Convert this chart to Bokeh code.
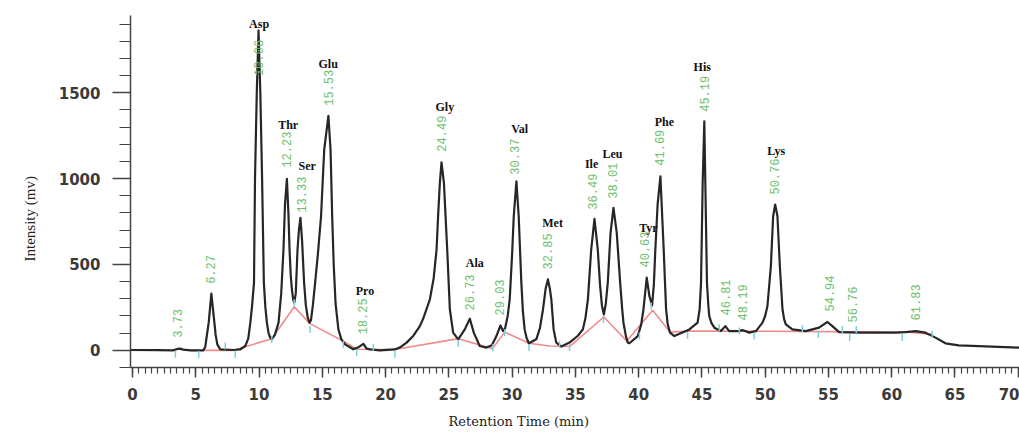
import math
from bokeh.plotting import figure
from bokeh.models import SingleIntervalTicker, Range1d, Title, ColumnDataSource
from bokeh.core.properties import value
from bokeh.embed import file_html
from bokeh.resources import INLINE

# ---- chromatogram trace (retention time min, intensity mV) ----
trace_t = [-0.16, 2.0, 3.2, 3.55, 3.75, 4.0, 4.6, 5.6, 5.75, 5.9, 6.02, 6.23, 6.47, 6.57, 6.7,
           6.94, 8.0, 8.5, 8.91, 9.15, 9.31, 9.45, 9.6, 9.68, 9.82, 9.96, 10.1, 10.24, 10.38,
           10.5, 10.62, 10.75, 10.88, 11.0, 11.25, 11.54, 11.75, 11.93, 12.05, 12.2, 12.32,
           12.41, 12.5, 12.6, 12.7, 12.78, 12.9, 13.04, 13.15, 13.27, 13.4, 13.56, 13.7, 13.85,
           13.99, 14.1, 14.25, 14.43, 14.65, 14.9, 15.15, 15.48, 15.65, 15.78, 15.9, 16.05,
           16.27, 16.5, 16.8, 17.45, 17.9, 18.25, 18.5, 18.77, 19.56, 20.74, 21.2, 21.66, 22.2,
           22.71, 23.0, 23.5, 23.8, 24.03, 24.15, 24.29, 24.42, 24.61, 24.87, 25.08, 25.34,
           25.74, 26.26, 26.66, 26.97, 27.44, 27.97, 28.4, 28.76, 29.08, 29.28, 29.45, 29.65,
           29.81, 30.0, 30.13, 30.34, 30.52, 30.73, 30.85, 30.99, 31.15, 31.33, 31.91, 32.2,
           32.44, 32.65, 32.83, 32.98, 33.1, 33.2, 33.28, 33.49, 33.89, 34.54, 35.2, 35.59,
           35.8, 35.99, 36.25, 36.51, 36.77, 36.95, 37.1, 37.25, 37.4, 37.56, 37.78, 38.01,
           38.27, 38.54, 38.7, 38.8, 39.0, 39.14, 39.27, 39.93, 40.2, 40.38, 40.64, 40.85,
           41.06, 41.2, 41.32, 41.5, 41.72, 41.85, 41.98, 42.08, 42.17, 42.3, 42.48, 42.82,
           44.01, 44.66, 44.82, 44.93, 45.06, 45.19, 45.27, 45.4, 45.5, 45.58, 45.75, 45.98,
           46.5, 46.85, 47.16, 47.9, 48.2, 48.74, 49.27, 49.79, 50.0, 50.18, 50.45, 50.63,
           50.79, 50.97, 51.16, 51.37, 51.5, 51.63, 52.15, 53.21, 54.26, 54.6, 54.92, 55.31,
           55.84, 57.67, 60.3, 61.1, 61.9, 62.67, 63.46, 64.25, 65.3, 67.93, 70.1]
trace_mv = [2, 1, 0, 8, 10, 4, 0, 0, 20, 100, 161, 330, 161, 90, 35,
            5, 2, 5, 25, 70, 161, 260, 393, 1000, 1500, 1862, 1500, 1000, 393,
            250, 161, 100, 74, 64, 90, 161, 330, 587, 850, 998, 800,
            587, 440, 350, 295, 277, 330, 587, 700, 771, 640, 393, 260, 190,
            161, 175, 260, 393, 560, 781, 1169, 1366, 1169, 781, 500, 270,
            122, 65, 35, 6, 20, 38, 10, 6, 0, 5, 20, 45, 85,
            141, 190, 296, 420, 587, 780, 975, 1095, 975, 587, 238, 103,
            64, 122, 184, 103, 25, 16, 30, 83, 145, 112, 130, 200,
            297, 560, 781, 984, 781, 393, 230, 122, 70, 41, 64, 130,
            238, 360, 413, 360, 297, 200, 122, 45, 22, 45, 85, 122,
            190, 297, 587, 766, 587, 380, 260, 209, 270, 393, 684, 830,
            684, 393, 240, 161, 80, 45, 41, 83, 150, 238, 423, 316,
            262, 380, 587, 850, 1013, 800, 587, 400, 238, 150, 103, 83,
            122, 161, 240, 393, 975, 1333, 975, 393, 270, 200, 160, 132,
            112, 141, 112, 112, 118, 103, 112, 161, 200, 258, 490, 781,
            849, 781, 490, 238, 180, 151, 122, 112, 132, 150, 165, 141,
            106, 103, 103, 106, 112, 103, 74, 41, 29, 22, 16]

# ---- integration baseline (red) ----
base_t = [4.57, 7.99, 11.01, 12.78, 13.99, 16.8, 17.72, 20.74, 25.74, 28.45, 29.42, 31.33,
          32.97, 34.54, 37.25, 39.06, 41.11, 42.48, 44.01, 47.16, 61.36, 63.2]
base_mv = [0, 0, 68, 254, 157, 48, 6, 5, 68, 10, 106, 41, 25, 22, 194, 54, 234, 106, 112,
           112, 106, 93]

# ---- integration markers (cyan) ----
mark_t = [3.39, 5.23, 7.33, 8.12, 11.01, 12.78, 14.04, 16.66, 17.72, 19.03, 20.74, 25.74,
          28.49, 29.42, 31.33, 33.75, 34.54, 37.22, 40.06, 40.99, 43.87, 46.37, 47.95, 49.13,
          52.94, 54.2, 56.1, 56.68, 57.2, 60.83, 63.2]
mark_mv = [-23, -23, 25, -23, 64, 277, 122, 35, -13, 16, -23, 41, 16, 103, 16, 35, 16, 180,
           83, 258, 87, 132, 112, 83, 126, 93, 122, 74, 122, 74, 93]

# ---- retention-time labels (green) ----
rt_labels = ["3.73", "6.27", "10.06", "12.23", "13.33", "15.53", "18.25", "24.49", "26.73",
             "29.03", "30.37", "32.85", "36.49", "38.01", "40.63", "41.69", "45.19", "46.81",
             "48.19", "50.76", "54.94", "56.76", "61.83"]
rt_label_t = [3.53, 6.2, 9.96, 12.2, 13.38, 15.48, 18.16, 24.42, 26.66, 29.02, 30.2, 32.83,
              36.38, 37.96, 40.46, 41.64, 45.19, 46.9, 48.21, 50.71, 55.05, 56.88, 61.88]
rt_label_mv = [157, 471, 1703, 1169, 907, 1529, 198, 1262, 337, 308, 1128, 576, 924, 988,
               587, 1180, 1494, 308, 279, 1012, 331, 267, 279]

# ---- amino-acid names ----
aa_names = ["Asp", "Thr", "Ser", "Glu", "Pro", "Gly", "Ala", "Val", "Met", "Ile", "Leu",
            "Tyr", "Phe", "His", "Lys"]
aa_t = [10.0, 12.3, 13.8, 15.46, 18.37, 24.68, 27.05, 30.6, 33.2, 36.28, 37.93, 40.77,
        42.03, 45.03, 50.87]
aa_mv = [1901, 1314, 1076, 1669, 343, 1419, 506, 1291, 744, 1087, 1145, 715, 1331, 1651, 1163]

p = figure(width=1019, height=438, output_backend="svg", toolbar_location=None,
           x_range=Range1d(-0.16, 70.1), y_range=Range1d(-100, 1950),
           min_border_left=130, min_border_right=0, min_border_top=15, min_border_bottom=70,
           background_fill_color="white", border_fill_color="white")
p.xgrid.visible = False
p.ygrid.visible = False
p.outline_line_color = None

p.xaxis.ticker = SingleIntervalTicker(interval=5, num_minor_ticks=10)
p.yaxis.ticker = SingleIntervalTicker(interval=500, num_minor_ticks=5)
for ax in (p.xaxis, p.yaxis):
    ax.axis_line_color = "#444444"
    ax.axis_line_width = 1.5
    ax.major_tick_line_color = "#444444"
    ax.minor_tick_line_color = "#444444"
    ax.major_tick_line_width = 1.5
    ax.minor_tick_line_width = 1.2
    ax.major_tick_in = 0
    ax.minor_tick_in = 0
    ax.major_label_text_font = "DejaVu Sans"
    ax.major_label_text_font_style = "bold"
    ax.major_label_text_font_size = "15px"
    ax.major_label_text_color = "#3a3a3a"
p.xaxis.major_tick_out = 10
p.xaxis.minor_tick_out = 6
p.xaxis.major_label_standoff = 10
p.yaxis.major_tick_out = 18
p.yaxis.minor_tick_out = 11
p.yaxis.major_label_standoff = 12

# red integration baseline
p.line(base_t, base_mv, line_color="#f08a8a", line_width=1.6)
# chromatogram trace
p.line(trace_t, trace_mv, line_color="#262626", line_width=2.2, line_join="round")
# cyan integration markers
p.scatter(mark_t, mark_mv, marker="dash", angle=math.pi / 2, size=7,
          line_color="#7ccfe0", line_width=1.5)

src_rt = ColumnDataSource(dict(x=rt_label_t, y=rt_label_mv, t=rt_labels))
p.text(x="x", y="y", text="t", source=src_rt, angle=math.pi / 2,
       text_font=value("Liberation Mono"), text_font_size="12px", text_color="#6dbf6d",
       text_align="center", text_baseline="middle")

src_aa = ColumnDataSource(dict(x=aa_t, y=aa_mv, t=aa_names))
p.text(x="x", y="y", text="t", source=src_aa,
       text_font=value("Liberation Serif"), text_font_style="bold", text_font_size="12px",
       text_color="#111111", text_align="center", text_baseline="middle")

# axis titles as side-panel titles
p.add_layout(Title(text="Retention Time (min)", align="left", offset=318, standoff=19,
                   vertical_align="bottom",
                   text_font="DejaVu Serif", text_font_size="13px",
                   text_font_style="normal", text_color="#222222"), "below")
p.add_layout(Title(text="Intensity (mv)", align="left", offset=106, standoff=35,
                   text_font="Liberation Serif", text_font_size="15px",
                   text_font_style="normal", text_color="#222222"), "left")

open("out.html", "w").write(file_html(p, INLINE))
